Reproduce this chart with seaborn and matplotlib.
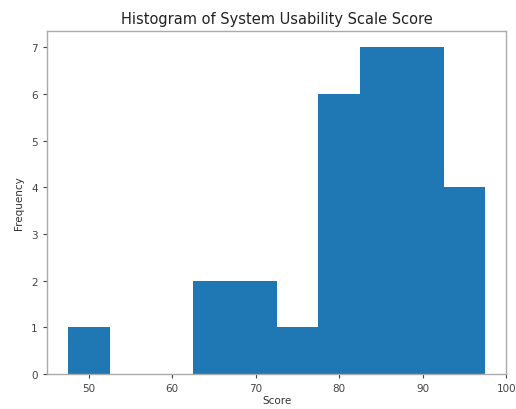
import matplotlib
matplotlib.use("Agg")
import matplotlib.pyplot as plt
import seaborn as sns
import pandas as pd

bin_centers = [50, 55, 60, 65, 70, 75, 80, 85, 90, 95]
counts = [1, 0, 0, 2, 2, 1, 6, 7, 7, 4]
x_ticks = [50, 60, 70, 80, 90, 100]
y_ticks = [0, 1, 2, 3, 4, 5, 6, 7]

df = pd.DataFrame({"Score": bin_centers, "count": counts})

sns.set_style("white")
plt.rcParams["font.family"] = ["DejaVu Sans"]

fig = plt.figure(figsize=(5.16, 4.10), dpi=100)
ax = fig.add_axes([0.091, 0.085, 0.890, 0.837])
sns.histplot(data=df, x="Score", weights="count", binwidth=5, binrange=(47.5, 97.5),
             color="#1f77b4", alpha=1, linewidth=0, ax=ax)
ax.set_xlim(45, 100)
ax.set_ylim(0, 7.35)
ax.set_xticks(x_ticks)
ax.set_yticks(y_ticks)
ax.tick_params(axis="both", labelsize=7.5, colors="#444444", length=3, width=0.8, direction="out",
               bottom=True, left=True)
for s in ax.spines.values():
    s.set_color("#aaaaaa")
    s.set_linewidth(1.0)
ax.set_xlabel("Score", fontsize=7.5, color="#333333", labelpad=1)
ax.set_ylabel("Frequency", fontsize=7.5, color="#333333", labelpad=5)
ax.set_title("Histogram of System Usability Scale Score", fontsize=10.5, color="#222222", pad=6)
fig.savefig("out.png", dpi=100)
